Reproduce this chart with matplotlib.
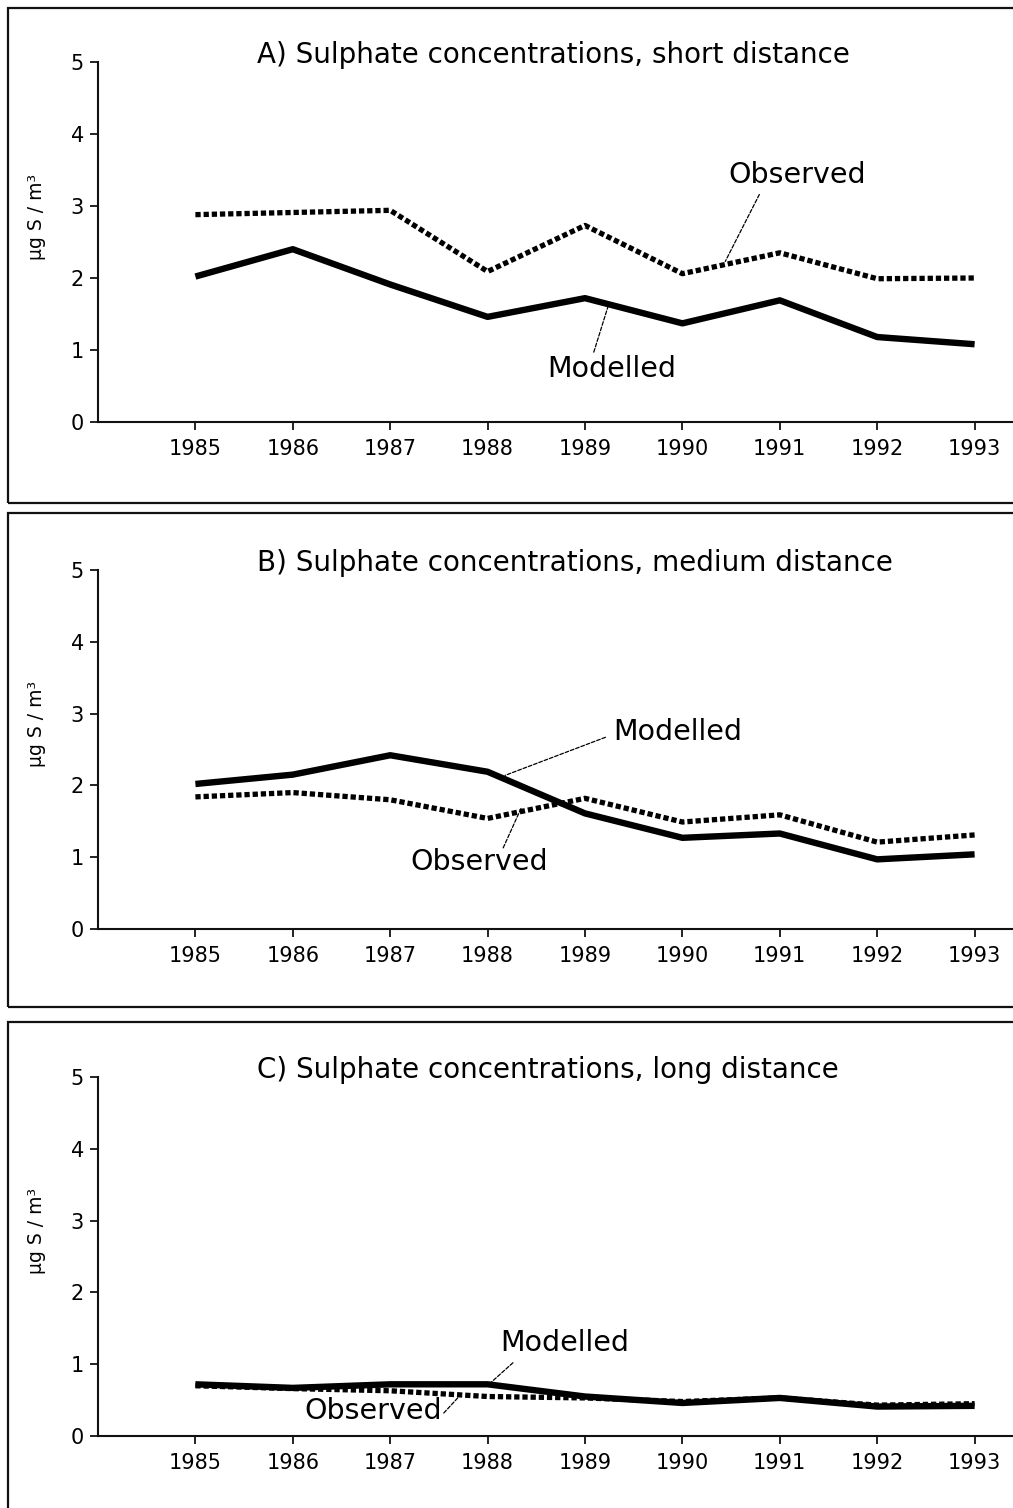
import matplotlib
matplotlib.use("Agg")
import matplotlib.pyplot as plt
import matplotlib.patches as mpatches

# ── Data ──────────────────────────────────────────────────────────
years = [1985, 1986, 1987, 1988, 1989, 1990, 1991, 1992, 1993]

obs_short = [2.88, 2.91, 2.94, 2.09, 2.73, 2.06, 2.35, 1.99, 2.00]
mod_short = [2.02, 2.40, 1.91, 1.46, 1.72, 1.37, 1.69, 1.18, 1.08]

obs_medium = [1.84, 1.90, 1.80, 1.54, 1.82, 1.49, 1.59, 1.21, 1.31]
mod_medium = [2.02, 2.15, 2.42, 2.19, 1.61, 1.27, 1.33, 0.97, 1.04]

obs_long = [0.70, 0.66, 0.63, 0.55, 0.53, 0.48, 0.53, 0.43, 0.45]
mod_long = [0.72, 0.67, 0.72, 0.72, 0.55, 0.46, 0.53, 0.41, 0.42]

titles = ["A) Sulphate concentrations, short distance",
          "B) Sulphate concentrations, medium distance",
          "C) Sulphate concentrations, long distance"]
ylabel = "µg S / m³"
yticks = [0, 1, 2, 3, 4, 5]

panels = [(obs_short, mod_short), (obs_medium, mod_medium), (obs_long, mod_long)]

# annotation label positions: (text xy, leader start, leader end) in data coords
obs_notes = [((1991.18, 3.43), (1990.79, 3.16), (1990.44, 2.23)),
             ((1987.91, 0.93), (1988.16, 1.13), (1988.35, 1.70)),
             ((1986.83, 0.35), (1987.55, 0.32), (1987.70, 0.54))]
mod_notes = [((1989.27, 0.74), (1989.09, 0.97), (1989.24, 1.62)),
             ((1989.95, 2.74), (1989.21, 2.67), (1988.18, 2.14)),
             ((1988.79, 1.30), (1988.26, 1.02), (1988.03, 0.74))]

plt.rcParams.update({"font.family": "DejaVu Sans"})

W, H = 1013, 1508
fig = plt.figure(figsize=(W / 100, H / 100), dpi=100)

# axes placement in pixels: (y of zero line, y of top)
axes_px = [(422, 62), (929, 570), (1436, 1077)]
boxes_px = [(8, 503), (513, 1007), (1022, 1530)]
left_px = 98

for (y0, y5), (btop, bbot) in zip(axes_px, boxes_px):
    fig.patches.append(mpatches.Rectangle(
        (8 / W, 1 - bbot / H), 1.2, (bbot - btop) / H,
        transform=fig.transFigure, fill=False, edgecolor="#111111", linewidth=1.6))

for i, ((obs, mod), (y0, y5)) in enumerate(zip(panels, axes_px)):
    ax = fig.add_axes([left_px / W, 1 - y0 / H, 1 - left_px / W, (y0 - y5) / H])
    ax.set_xlim(1984, 1984 + (W - left_px) / 97.4)
    ax.set_ylim(0, 5)
    ax.patch.set_alpha(0)

    ax.plot(years, obs, color="black", linewidth=3.8,
            linestyle=(0, (1.0, 0.55)), dash_capstyle="butt")
    ax.plot(years, mod, color="black", linewidth=4.6, solid_capstyle="butt",
            solid_joinstyle="round")

    for spine in ["top", "right"]:
        ax.spines[spine].set_visible(False)
    for spine in ["left", "bottom"]:
        ax.spines[spine].set_linewidth(1.5)
        ax.spines[spine].set_color("#111111")

    ax.set_xticks(years)
    ax.set_xticklabels([str(y) for y in years])
    ax.set_yticks(yticks)
    ax.tick_params(axis="both", direction="out", length=6, width=1.3,
                   labelsize=15, color="#111111")
    ax.tick_params(axis="x", pad=6)
    ax.tick_params(axis="y", pad=4)

    ax.text(0.174, 1.02, titles[i], transform=ax.transAxes, ha="left",
            va="center", fontsize=20)
    ax.text(-0.067, 0.57, ylabel, transform=ax.transAxes, rotation=90,
            ha="center", va="center", fontsize=13.5)

    (tx, ty), s, e = obs_notes[i]
    ax.text(tx, ty, "Observed", ha="center", va="center", fontsize=20.5)
    ax.annotate("", xy=e, xytext=s,
                arrowprops=dict(arrowstyle="-", linewidth=0.9,
                                linestyle=(0, (3, 1.5)), shrinkA=0, shrinkB=0))
    (tx, ty), s, e = mod_notes[i]
    ax.text(tx, ty, "Modelled", ha="center", va="center", fontsize=20.5)
    ax.annotate("", xy=e, xytext=s,
                arrowprops=dict(arrowstyle="-", linewidth=0.9,
                                linestyle=(0, (3, 1.5)), shrinkA=0, shrinkB=0))

fig.savefig("out.png", dpi=100)
